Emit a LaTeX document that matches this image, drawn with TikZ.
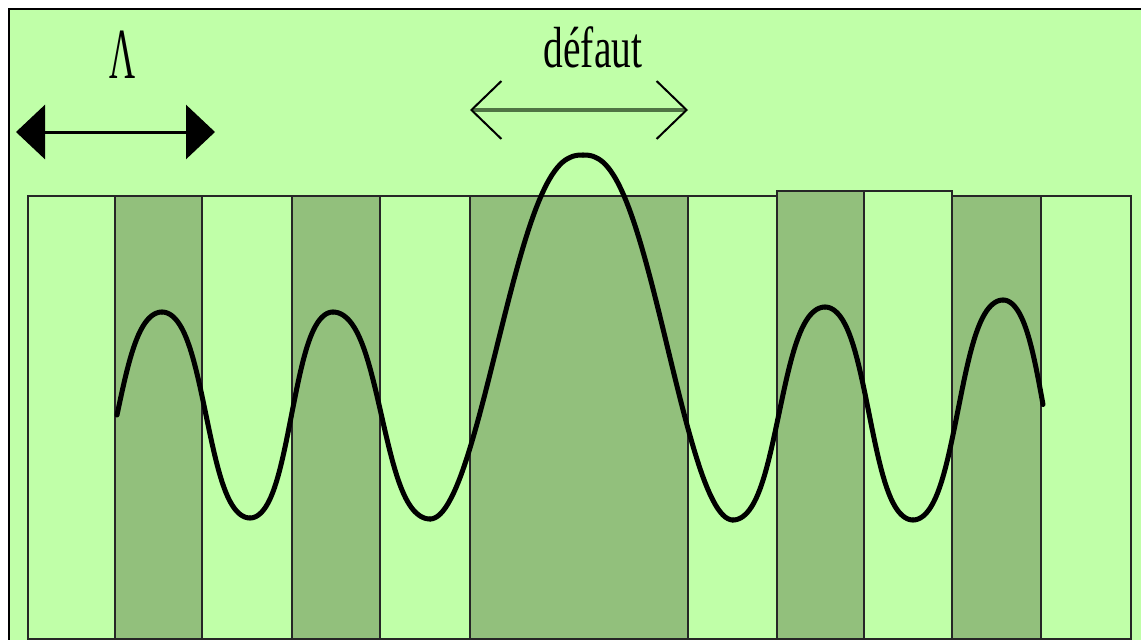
\documentclass[tikz,border=0pt]{standalone}
\usepackage{fontspec}
\setmainfont{Liberation Serif}
\usetikzlibrary{arrows.meta}
\definecolor{lightgr}{HTML}{C0FFA8}
\definecolor{darkgr}{HTML}{92C07C}
\definecolor{shaftgr}{HTML}{4F7444}
\newcommand{\squeeze}[2]{\scalebox{#1}[1]{#2}}
\tikzset{
  frame/.style    = {draw=black, line width=2.5pt, fill=lightgr},
  light/.style    = {draw=black!85, line width=1.6pt, fill=lightgr},
  dark/.style     = {draw=black!85, line width=1.6pt, fill=darkgr},
  wave/.style     = {draw=black, line width=5pt, line cap=round, line join=round},
  lab/.style      = {inner sep=0pt, anchor=base},
  periodarr/.style= {draw=black, line width=3pt,
                     {Triangle[length=29pt,width=54pt]}-{Triangle[length=29pt,width=54pt]}},
  defarr/.style   = {draw=shaftgr, line width=3.5pt,
                     {Straight Barb[length=30pt,width=58pt,line width=2pt,color=black]}-{Straight Barb[length=30pt,width=58pt,line width=2pt,color=black]}},
}

\begin{document}
\begin{tikzpicture}[x=1pt, y=-1pt]
  \useasboundingbox (0,0) rectangle (1141,640);
  \clip (0,0) rectangle (1141,640);
  % background frame
  \draw[frame] (9,9) rectangle (1170,670);
  % stripes of the grating
  \foreach \xa/\xb/\yt/\st in {28/115/196/light, 115/202/196/dark, 202/292/196/light,
      292/380/196/dark, 380/470/196/light, 470/688/196/dark, 688/777/196/light,
      777/864/191/dark, 864/952/191/light, 952/1041/196/dark, 1041/1131/196/light}
    \draw[\st] (\xa,\yt) rectangle (\xb,639);
  % field: regular oscillations, one half wave from extremum to extremum
  \foreach \xa/\ya/\xb/\yb/\xs/\xe in {72/518/162/312/117/162, 162/312/250/518/162/250,
      250/518/333/312/250/333, 333/312/430/519/333/430, 733/520/825/307/733/825,
      825/307/913/520/825/913, 913/520/1003/300/913/1003, 1003/300/1085/520/1003/1043}
    \draw[wave] plot[domain=\xs:\xe, samples=45]
      (\x, {\ya + (\yb-\ya)*(0.5 - 0.5*tanh(1.0*cos((\x-\xa)/(\xb-\xa)*180))/tanh(1.0))});
  % field: peak over the defect
  \draw[wave] plot[domain=430:583, samples=60]
    (\x, {155 + 364*pow(abs(sin((\x-583)/153*90))+0.0001, 2.5)});
  \draw[wave] plot[domain=583:733, samples=60]
    (\x, {155 + 365*pow(abs(sin((\x-583)/150*90))+0.0001, 2.5)});
  % period
  \coordinate (perL) at (16,132);
  \coordinate (perR) at (215,132);
  \draw[periodarr] (perL) -- (perR);
  \node[lab, font=\fontsize{72}{74}\selectfont] (lam) at (123,78) {\squeeze{0.5}{Λ}};
  % defect
  \coordinate (defL) at (470,110);
  \coordinate (defR) at (688,110);
  \draw[defarr] (defL) -- (defR);
  \node[lab, font=\fontsize{58}{60}\selectfont] (def) at (593,67) {\squeeze{0.68}{défaut}};
\end{tikzpicture}
\end{document}
